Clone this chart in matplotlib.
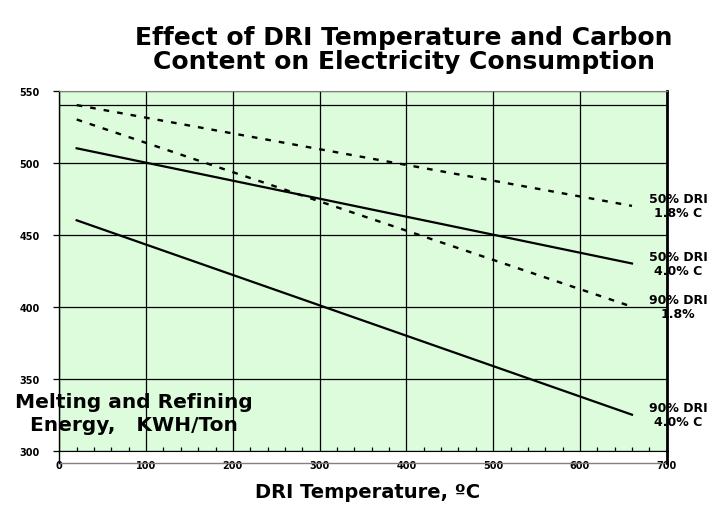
import numpy as np
import matplotlib.pyplot as plt
import matplotlib.ticker as ticker

plt.rc('font', family='DejaVu Sans', weight='bold')

temps = [20, 660]
dri50_c18 = [540, 470]
dri50_c40 = [510, 430]
dri90_c18 = [530, 400]
dri90_c40 = [460, 325]
labels = ['50% DRI\n1.8% C', '50% DRI\n4.0% C', '90% DRI\n1.8%', '90% DRI\n4.0% C']
styles = ['--', '-', '--', '-']
series = [dri50_c18, dri50_c40, dri90_c18, dri90_c40]

fig = plt.figure(figsize=(7.07, 5.06), dpi=100)
ax = fig.add_axes([0.0839, 0.1073, 0.8591, 0.7115])
ax.set_facecolor('#dcfcdc')

for vals, ls, lab in zip(series, styles, labels):
    if ls == '--':
        ax.plot(temps, vals, color='black', lw=1.7, ls=(0, (2.4, 3.4)))
    else:
        ax.plot(temps, vals, color='black', lw=1.6)
    ax.text(temps[-1] + 53, vals[-1], lab, ha='center', va='center', fontsize=9,
            linespacing=1.1, clip_on=False)

ax.set_xlim(0, 700)
ax.set_ylim(300, 550)
ax.xaxis.set_major_locator(ticker.MultipleLocator(100))
ax.xaxis.set_minor_locator(ticker.MultipleLocator(20))
ax.yaxis.set_major_locator(ticker.MultipleLocator(50))
ax.grid(True, which='major', color='black', lw=0.9)
ax.axhline(540, color='black', lw=0.9)
ax.tick_params(axis='x', which='major', direction='in', length=0, labelsize=7, pad=7)
ax.tick_params(axis='x', which='minor', direction='in', length=3, width=0.9)
ax.tick_params(axis='y', which='major', direction='out', length=4, width=0.9, labelsize=7, pad=10)

ax.spines['top'].set_color('#808080')
ax.spines['right'].set_linewidth(2)
ax.spines['left'].set_linewidth(1)

# the frame line under the plot area
ax.plot([0, 1], [-0.035, -0.035], transform=ax.transAxes, clip_on=False, color='#808080', lw=1)
ax.plot([0, 0], [-0.035, 0], transform=ax.transAxes, clip_on=False, color='black', lw=1)
ax.plot([1, 1], [-0.035, 0], transform=ax.transAxes, clip_on=False, color='black', lw=2)

fig.text(0.571, 0.902, 'Effect of DRI Temperature and Carbon\nContent on Electricity Consumption',
         ha='center', va='center', fontsize=18, linespacing=1.0)
fig.text(0.52, 0.026, 'DRI Temperature, ºC', ha='center', va='center', fontsize=14)
fig.text(0.19, 0.182, 'Melting and Refining\nEnergy,   KWH/Ton', ha='center', va='center',
         fontsize=14.5, linespacing=1.3)

fig.savefig('out.png', dpi=100)
